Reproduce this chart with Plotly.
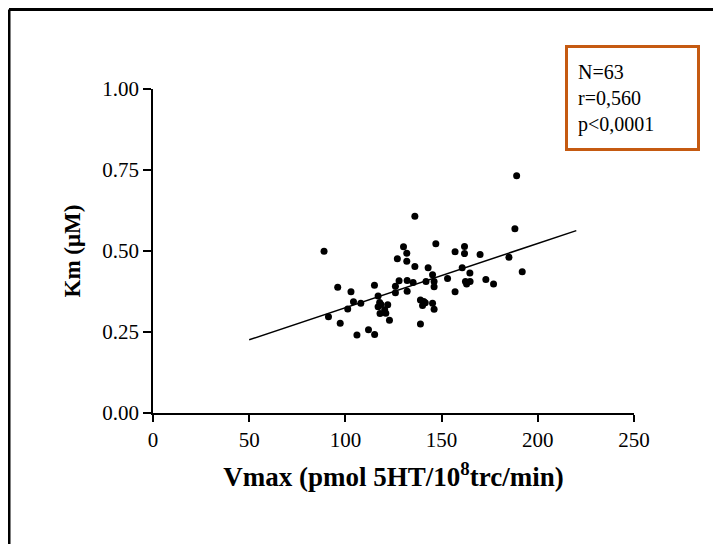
import plotly.graph_objects as go

# scatter data: Vmax (pmol 5HT/10^8 trc/min) vs Km (uM)
vmax = [88.9, 189.0, 136.1, 188.1, 147.0, 130.2, 131.9, 127.0, 131.9, 136.1,
        143.0, 145.3, 157.0, 161.9, 161.9, 170.0, 185.0, 191.9, 160.7, 164.7,
        153.1, 173.0, 177.0, 162.4, 164.8, 163.0, 146.1, 146.1, 141.9, 157.0,
        135.2, 132.1, 127.9, 126.0, 126.0, 132.1, 115.1, 117.0, 117.8, 117.0,
        122.0, 118.0, 121.0, 120.4, 122.9, 139.0, 140.7, 140.1, 145.3, 146.1,
        139.0, 96.0, 102.9, 104.2, 108.0, 101.2, 91.2, 97.3, 106.0, 112.0,
        115.2, 118.5, 141.5]
km = [0.499, 0.732, 0.607, 0.569, 0.522, 0.513, 0.493, 0.476, 0.468, 0.452,
      0.448, 0.427, 0.498, 0.514, 0.492, 0.489, 0.481, 0.436, 0.448, 0.432,
      0.415, 0.412, 0.398, 0.406, 0.406, 0.398, 0.406, 0.390, 0.406, 0.374,
      0.403, 0.409, 0.408, 0.391, 0.371, 0.376, 0.394, 0.361, 0.341, 0.328,
      0.334, 0.307, 0.308, 0.319, 0.286, 0.349, 0.344, 0.332, 0.339, 0.320,
      0.275, 0.388, 0.374, 0.343, 0.339, 0.321, 0.297, 0.277, 0.241, 0.257,
      0.242, 0.335, 0.340]

# regression line end points
fit_x = [50, 220]
fit_y = [0.226, 0.563]

x_ticks = [0, 50, 100, 150, 200, 250]
y_ticks = [0.00, 0.25, 0.50, 0.75, 1.00]

stats_text = "N=63<br>r=0,560<br>p<0,0001"

serif = "Liberation Serif, Times New Roman, serif"

# the page puts the figure 8px in from the corner, so margins are set to land
# the plot area at the same screen spot as the reference
ML, MT, PW, PH = 145, 81, 481, 324

fig = go.Figure()
fig.add_trace(go.Scatter(x=vmax, y=km, mode='markers',
                         marker=dict(color='black', size=7),
                         hoverinfo='skip', showlegend=False))
fig.add_trace(go.Scatter(x=fit_x, y=fit_y, mode='lines',
                         line=dict(color='black', width=1.5),
                         hoverinfo='skip', showlegend=False))

axis_style = dict(showline=True, linecolor='black', linewidth=1.5,
                  ticks='outside', tickcolor='black', tickwidth=1.5,
                  showgrid=False, zeroline=False,
                  tickfont=dict(family=serif, size=21, color='black'))

fig.update_layout(
    width=721, height=544,
    margin=dict(l=ML, r=721 - ML - PW, t=MT, b=544 - MT - PH),
    paper_bgcolor='white', plot_bgcolor='white',
    font=dict(family=serif, color='black'),
    xaxis=dict(range=[0, 250], tickvals=x_ticks, ticklen=7,
               title=dict(text="<b>Vmax (pmol 5HT/10<sup>8</sup>trc/min)</b>",
                          font=dict(family=serif, size=27), standoff=16),
               **axis_style),
    yaxis=dict(range=[0, 1], tickvals=y_ticks, tickformat='.2f', ticklen=8,
               title=dict(text="<b>Km (μM)</b>",
                          font=dict(family=serif, size=23), standoff=15),
               **axis_style),
    annotations=[dict(text=stats_text, xref='paper', yref='paper',
                      x=(565 - 8 - ML) / PW, y=(MT + PH - (45 - 8)) / PH,
                      xanchor='left', yanchor='top',
                      showarrow=False, align='left', valign='middle',
                      width=109, height=80, borderpad=10,
                      bordercolor='#C55A11', borderwidth=3, bgcolor='white',
                      font=dict(family=serif, size=20, color='black'))],
    shapes=[
        # outer frame (only the left and top edges are inside the picture)
        dict(type='line', xref='paper', yref='paper',
             x0=(1 - ML) / PW, x1=(740 - ML) / PW,
             y0=(MT + PH - 1.5) / PH, y1=(MT + PH - 1.5) / PH,
             line=dict(color='black', width=3)),
        dict(type='line', xref='paper', yref='paper',
             x0=(1 - ML) / PW, x1=(1 - ML) / PW,
             y0=(MT + PH - 1.5) / PH, y1=(MT + PH - 560) / PH,
             line=dict(color='black', width=3)),
    ],
)

fig.write_html("out.html")
